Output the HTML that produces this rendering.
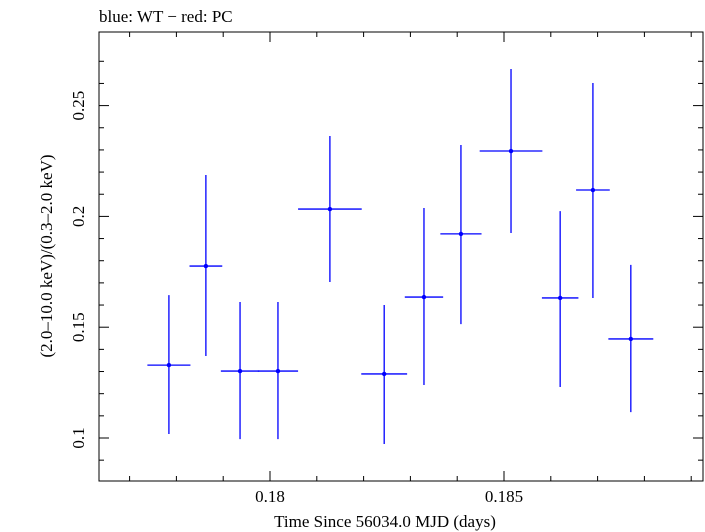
<!DOCTYPE html>
<html><head><meta charset="utf-8"><style>
body{margin:0;background:#fff;}
svg{display:block;font-family:"Liberation Serif",serif;}
</style></head><body>
<svg id="chart" width="705" height="532">
<text x="99" y="22" font-size="17">blue: WT − red: PC</text>
<rect x="99" y="32" width="604" height="449" fill="none" stroke="#000" stroke-width="1"/>
<g id="ticks"></g>
<g id="marks"></g>
<text x="385" y="527" font-size="17" text-anchor="middle">Time Since 56034.0 MJD (days)</text>
<text transform="translate(52,256) rotate(-90)" font-size="17" text-anchor="middle">(2.0–10.0 keV)/(0.3–2.0 keV)</text>
</svg>
<script>
const times=[0.17784,0.17863,0.17936,0.18017,0.18128,0.18244,0.18329,0.18408,0.18515,0.18620,0.18690,0.18771];
const timeErr=[0.00046,0.00035,0.00041,0.00043,0.00068,0.00049,0.00041,0.00044,0.00067,0.00039,0.00036,0.00048];
const ratios=[0.1329,0.1776,0.1302,0.1302,0.2033,0.1289,0.1636,0.1921,0.2295,0.1632,0.2119,0.1447];
const ratioHi=[0.1645,0.2187,0.1614,0.1614,0.2363,0.1600,0.2038,0.2322,0.2665,0.2024,0.2602,0.1781];
const ratioLo=[0.1018,0.1370,0.0995,0.0995,0.1704,0.0973,0.1239,0.1514,0.1925,0.1230,0.1632,0.1117];
const xTicks=[0.18,0.185];
const xTickLabels=["0.18","0.185"];
const yTicks=[0.1,0.15,0.2,0.25];
const yTickLabels=["0.1","0.15","0.2","0.25"];
const L=99,R=703,T=32,B=481;
function xs(v){return 270+(v-0.18)*234/0.005;}
function ys(v){return 438-(v-0.1)*110.8/0.05;}
const NS="http://www.w3.org/2000/svg";
function mk(tag,attrs,parent){const e=document.createElementNS(NS,tag);for(const k in attrs)e.setAttribute(k,attrs[k]);parent.appendChild(e);return e;}
const tg=document.getElementById('ticks'),mg=document.getElementById('marks');
for(let v=0.176;v<=0.1895;v+=0.001){const x=xs(v);if(x<L||x>R)continue;
 const major=xTicks.some(t=>Math.abs(t-v)<1e-6);const len=major?10:5;
 const a=mk('line',{x1:x,x2:x,y1:B,y2:B-len,stroke:'#000'},tg);
 
 
 const b=mk('line',{x1:x,x2:x,y1:T,y2:T+len,stroke:'#000'},tg);
 
 }
xTicks.forEach((t,i)=>{const e=mk('text',{x:xs(t),y:502,'font-size':17,'text-anchor':'middle'},tg);e.textContent=xTickLabels[i];
 
 });
for(let v=0.09;v<=0.28;v+=0.01){const y=ys(v);if(y<T||y>B)continue;
 const major=yTicks.some(t=>Math.abs(t-v)<1e-6);const len=major?10:5;
 const a=mk('line',{x1:L,x2:L+len,y1:y,y2:y,stroke:'#000'},tg);
 
 
 const b=mk('line',{x1:R,x2:R-len,y1:y,y2:y,stroke:'#000'},tg);
 
 }
yTicks.forEach((t,i)=>{const e=mk('text',{transform:`translate(84,${ys(t)}) rotate(-90)`,'font-size':17,'text-anchor':'middle'},tg);e.textContent=yTickLabels[i];
 
 });
times.forEach((t,i)=>{const g=mk('g',{},mg);
 
 
 mk('line',{x1:xs(t-timeErr[i]),x2:xs(t+timeErr[i]),y1:ys(ratios[i]),y2:ys(ratios[i]),stroke:'#0000ff','stroke-width':1.3},g);
 mk('line',{x1:xs(t),x2:xs(t),y1:ys(ratioHi[i]),y2:ys(ratioLo[i]),stroke:'#0000ff','stroke-width':1.3},g);
 mk('circle',{cx:xs(t),cy:ys(ratios[i]),r:2.2,fill:'#0000ff'},g);});
</script>
</body></html>
